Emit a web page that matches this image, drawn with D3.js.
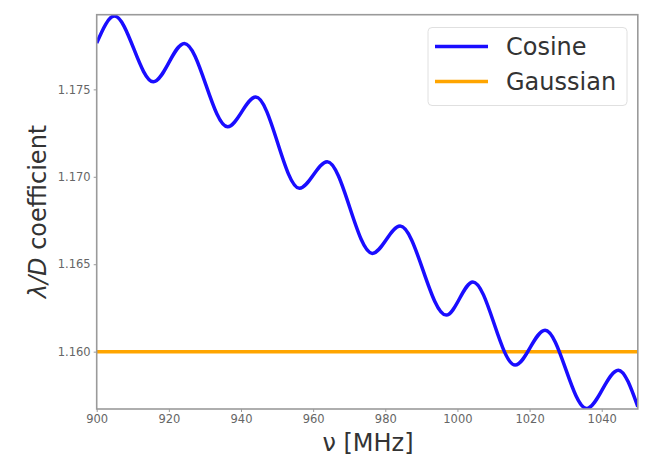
<!DOCTYPE html>
<html><head><meta charset="utf-8">
<script src="https://cdn.jsdelivr.net/npm/d3@7"></script>
<style>
html,body{margin:0;padding:0;background:#fff;}
svg{display:block;font-family:"DejaVu Sans",sans-serif;}
</style></head>
<body><svg id="chart" width="649" height="460"></svg>
<script>
// Data
const freq = [900, 904.9, 915.7, 924.3, 936.3, 944.1, 956.2, 963.9, 976.4, 984.1, 996.9, 1004.3, 1016.0, 1024.3, 1035.8, 1044.6, 1050];
const cosineCoef = [1.17765, 1.17919, 1.17543, 1.17763, 1.17286, 1.17456, 1.16934, 1.17086, 1.16562, 1.16718, 1.16209, 1.16399, 1.15923, 1.16123, 1.15675, 1.15894, 1.15685];
const gaussianCoef = [1.160, 1.160];
const gaussianFreq = [900, 1050];
const xTicks = [900, 920, 940, 960, 980, 1000, 1020, 1040];
const yTicks = [1.160, 1.165, 1.170, 1.175];
const seriesNames = ["Cosine", "Gaussian"];
const seriesColors = ["#1a0dff", "#ffa500"];

const svg = d3.select("#chart");
const L = 96.7, R = 637.8, T = 14.7, B = 409;
const x = d3.scaleLinear().domain([900, 1050]).range([L, R]);
const y = d3.scaleLinear().domain([1.15672, 1.17927]).range([B, T]);

svg.append("defs").append("clipPath").attr("id", "clip")
  .append("rect").attr("x", L).attr("y", T).attr("width", R - L).attr("height", B - T);

const plot = svg.append("g").attr("clip-path", "url(#clip)");
const line = d3.line().x(d => x(d[0])).y(d => y(d[1])).curve(d3.curveMonotoneX);

plot.append("path")
  .datum(gaussianFreq.map((f, i) => [f, gaussianCoef[i]]))
  .attr("d", line).attr("fill", "none")
  .attr("stroke", seriesColors[1]).attr("stroke-width", 3.5);

plot.append("path")
  .datum(freq.map((f, i) => [f, cosineCoef[i]]))
  .attr("d", line).attr("fill", "none")
  .attr("stroke", seriesColors[0]).attr("stroke-width", 3.5);

// frame
svg.append("rect").attr("x", L).attr("y", T).attr("width", R - L).attr("height", B - T)
  .attr("fill", "none").attr("stroke", "#9a9a9a").attr("stroke-width", 1.6);

// axes
const xAxis = svg.append("g").attr("transform", `translate(0,${B})`)
  .call(d3.axisBottom(x).tickValues(xTicks).tickFormat(d3.format("d")).tickSize(3).tickPadding(3));
const yAxis = svg.append("g").attr("transform", `translate(${L},0)`)
  .call(d3.axisLeft(y).tickValues(yTicks).tickFormat(d3.format(".3f")).tickSize(3).tickPadding(3));
[xAxis, yAxis].forEach(a => {
  a.select(".domain").remove();
  a.selectAll(".tick line").attr("stroke", "#9a9a9a").attr("stroke-width", 1);
  a.selectAll(".tick text").attr("fill", "#666").style("font-size", "11.5px")
    .style("font-family", "'DejaVu Sans',sans-serif");
});

// axis labels
svg.append("text").attr("x", 368).attr("y", 443).attr("text-anchor", "middle")
  .attr("dominant-baseline", "central").attr("fill", "#333").style("font-size", "24px")
  .text("ν [MHz]");
const yl = svg.append("text").attr("transform", "translate(38,211.5) rotate(-90)")
  .attr("text-anchor", "middle").attr("dominant-baseline", "central")
  .attr("fill", "#333").style("font-size", "24px");
yl.append("tspan").style("font-style", "italic").text("λ/D");
yl.append("tspan").text(" coefficient");

// legend
const lg = svg.append("g");
lg.append("rect").attr("x", 428).attr("y", 27.5).attr("width", 199).attr("height", 78).attr("rx", 4)
  .attr("fill", "#fff").attr("stroke", "#e0e0e0").attr("stroke-width", 1);
seriesNames.forEach((n, i) => {
  const yy = 46.5 + i * 35;
  lg.append("line").attr("x1", 435).attr("x2", 488).attr("y1", yy).attr("y2", yy)
    .attr("stroke", seriesColors[i]).attr("stroke-width", 3.5);
  lg.append("text").attr("x", 506).attr("y", yy).attr("dominant-baseline", "central")
    .attr("fill", "#333").style("font-size", "24px").text(n);
});
</script></body></html>
